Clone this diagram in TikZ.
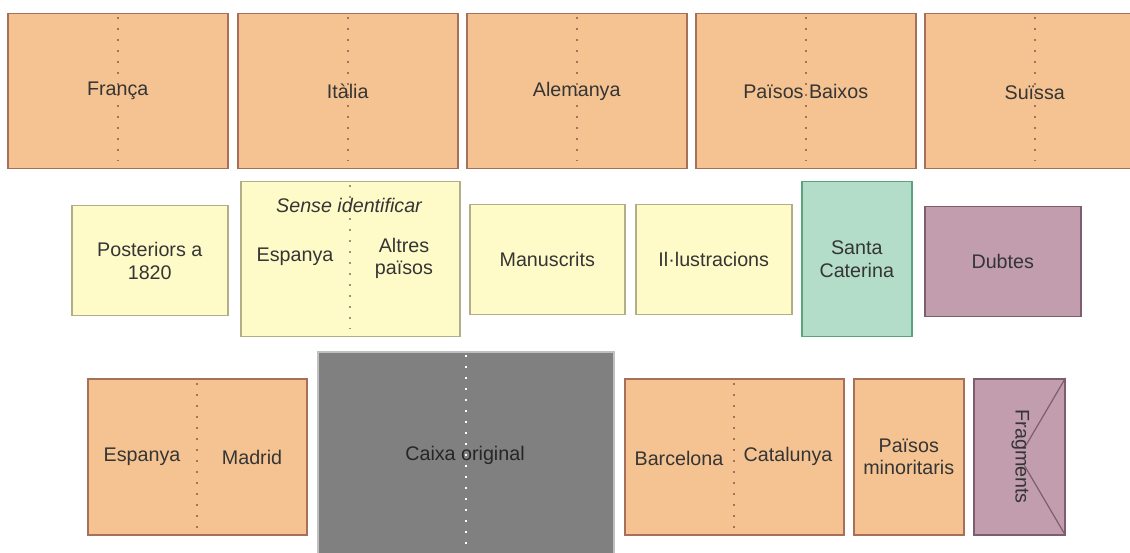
\documentclass[tikz,border=0pt]{standalone}
\usepackage{fontspec}
\setmainfont{Liberation Sans}
\usetikzlibrary{calc}
\definecolor{ofill}{HTML}{F5C391}
\definecolor{odraw}{HTML}{A8705A}
\definecolor{yfill}{HTML}{FFFBC8}
\definecolor{ydraw}{HTML}{B2AE88}
\definecolor{gfill}{HTML}{B3DDC8}
\definecolor{gdraw}{HTML}{5BA37A}
\definecolor{pfill}{HTML}{C19DAD}
\definecolor{pdraw}{HTML}{7E5E6E}
\definecolor{kfill}{HTML}{808080}
\definecolor{kdraw}{HTML}{C0C0C0}
\definecolor{txt}{HTML}{353535}
\begin{document}
\begin{tikzpicture}[x=1pt,y=-1pt,
  every node/.style={text=txt, font=\fontsize{19.7}{22.5}\selectfont},
  box/.style={draw, line width=1.5pt, anchor=north west, inner sep=0pt, align=center},
  obox/.style={box, fill=ofill, draw=odraw},
  ybox/.style={box, fill=yfill, draw=ydraw},
  gbox/.style={box, fill=gfill, draw=gdraw},
  pbox/.style={box, fill=pfill, draw=pdraw},
  kbox/.style={box, fill=kfill, draw=kdraw},
  lbl/.style={align=center, inner sep=0pt},
  fold/.style={line width=1.7pt, dash pattern=on 2pt off 9pt},
  odot/.style={fold, draw=odraw},
  ydot/.style={fold, draw=ydraw!85!black},
  wdot/.style={fold, draw=white}
]
\useasboundingbox (0,0) rectangle (1130,553);
% top row
\node[obox, minimum width=220pt, minimum height=155pt] (fr) at (7,13) {};
\node[obox, minimum width=220pt, minimum height=155pt] (it) at (237,13) {};
\node[obox, minimum width=220pt, minimum height=155pt] (al) at (466,13) {};
\node[obox, minimum width=220pt, minimum height=155pt] (pb) at (695,13) {};
\node[obox, minimum width=220pt, minimum height=155pt] (su) at (924,13) {};
\foreach \n in {fr,it,al,pb,su}{
  \draw[odot] ($(\n.north)+(0,4)$) -- ($(\n.south)-(0,8)$);
}
\node[lbl] (frl) at (fr.center) {França};
\node[lbl] (itl) at (it.center) {Itàlia};
\node[lbl] (all) at (al.center) {Alemanya};
\node[lbl] (pbl) at (pb.center) {Països Baixos};
\node[lbl] (sul) at ($(su.center)+(0,1.5)$) {Suïssa};
% middle row
\node[ybox, minimum width=156pt, minimum height=110pt] (post) at (71,205) {Posteriors a\\1820};
\node[ybox, minimum width=219pt, minimum height=155pt] (sense) at (240,181) {};
\draw[ydot] ($(sense.north)+(0,4)$) -- ($(sense.south)-(0,8)$);
\node[lbl, font=\fontsize{19.7}{22.5}\selectfont\itshape] (sensel) at (349,205) {Sense identificar};
\node[lbl] (sesp) at (295,257) {Espanya};
\node[lbl] (salt) at (404,258.5) {Altres\\països};
\node[ybox, minimum width=155pt, minimum height=110pt] (manu) at (469,204) {Manuscrits};
\node[ybox, minimum width=156pt, minimum height=110pt] (illu) at (635,204) {Il·lustracions};
\node[gbox, minimum width=110pt, minimum height=155pt] (santa) at (801,181) {Santa\\Caterina};
\node[pbox, minimum width=156pt, minimum height=110pt] (dub) at (924,206) {Dubtes};
% bottom row
\node[obox, minimum width=219pt, minimum height=156pt] (espm) at (87,378) {};
\draw[odot] ($(espm.north)+(0,5)$) -- ($(espm.south)-(0,8)$);
\node[lbl] (espl) at (142,457) {Espanya};
\node[lbl] (madl) at (252,457) {Madrid};
\node[kbox, minimum width=296pt, minimum height=215pt] (caixa) at (317,351) {};
\draw[wdot] ($(caixa.north)+(0,4)$) -- ($(caixa.south)$);
\node[lbl, text=black!85] (caixal) at (465,455) {Caixa original};
\node[obox, minimum width=219pt, minimum height=156pt] (barc) at (624,378) {};
\draw[odot] ($(barc.north)+(0,5)$) -- ($(barc.south)-(0,8)$);
\node[lbl] (barl) at (679,458) {Barcelona};
\node[lbl] (catl) at (788,456) {Catalunya};
\node[obox, minimum width=110pt, minimum height=156pt] (mino) at (853,378) {Països\\minoritaris};
\node[pbox, minimum width=91pt, minimum height=156pt] (frag) at (973,378) {};
\draw[pdraw, line width=1.2pt, shorten >=10pt] (frag.north east) -- (frag.center);
\draw[pdraw, line width=1.2pt, shorten <=10pt] (frag.center) -- (frag.south east);
\node[lbl, rotate=-90] (fragl) at ($(frag.center)+(1,0)$) {Fragments};
\end{tikzpicture}
\end{document}
